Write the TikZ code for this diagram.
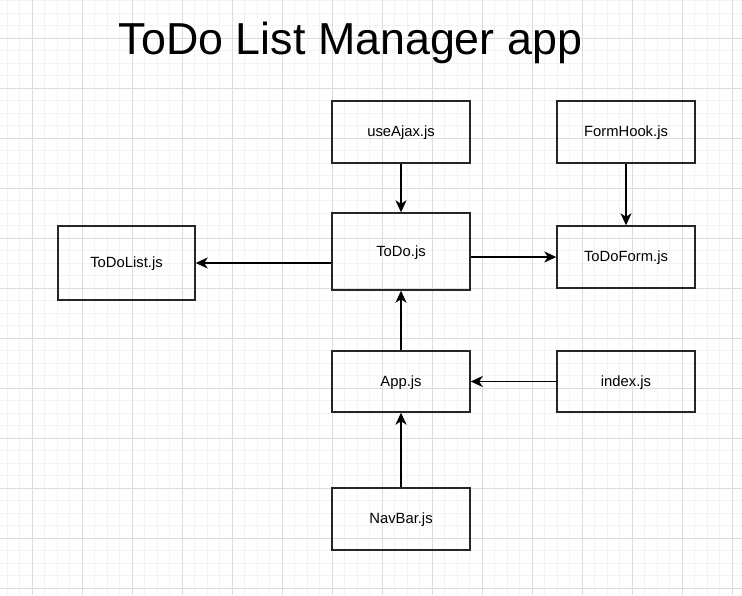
\documentclass[tikz,border=0pt]{standalone}
\usepackage{fontspec}
\setmainfont{Liberation Sans}
\usetikzlibrary{arrows.meta}
\definecolor{gmaj}{HTML}{DCDCDC}
\definecolor{gmin}{HTML}{F3F3F3}
\tikzset{
  box/.style={draw=black!85, line width=1.4pt, minimum width=138pt, font=\fontsize{14.8pt}{17pt}\selectfont, inner sep=0pt, text depth=0pt, text height=9pt},
  conn/.style={draw=black, line width=1.4pt, -{Stealth[length=12pt,width=11pt,inset=3.5pt]}}
}
\begin{document}
\begin{tikzpicture}[x=1pt,y=-1pt]
\useasboundingbox (0,0) rectangle (742,595);
\fill[white] (0,0) rectangle (742,595);
% minor grid
\foreach \i in {0,...,60} {
  \pgfmathsetmacro\xx{32+12.5*(\i-3)}
  \draw[gmin, line width=0.8pt] (\xx,0) -- (\xx,595);
}
\foreach \i in {0,...,50} {
  \pgfmathsetmacro\yy{38+12.5*(\i-4)}
  \draw[gmin, line width=0.8pt] (0,\yy) -- (742,\yy);
}
% major grid
\foreach \xx in {32,82,...,732} { \draw[gmaj, line width=0.9pt] (\xx,0) -- (\xx,595); }
\foreach \yy in {38,88,...,588} { \draw[gmaj, line width=0.9pt] (0,\yy) -- (742,\yy); }

\node (title) at (350.5,43) {\fontsize{44.8pt}{50pt}\selectfont ToDo List Manager app};

\node[box, minimum height=62pt] (ajax) at (401,132) {useAjax.js};
\node[box, minimum height=62pt] (hook) at (626,132) {FormHook.js};
\node[box, minimum height=77pt] (todo) at (401,251.5) {ToDo.js};
\node[box, minimum height=62pt] (form) at (626,257) {ToDoForm.js};
\node[box, minimum width=137pt, minimum height=74pt] (list) at (126.5,263) {ToDoList.js};
\node[box, minimum height=61pt] (app) at (401,381.5) {App.js};
\node[box, minimum height=61pt] (index) at (626,381.5) {index.js};
\node[box, minimum height=62pt] (nav) at (401,519) {NavBar.js};

\draw[conn] (ajax) -- (todo);
\draw[conn] (hook) -- (form);
\draw[conn] (todo.west |- list) -- (list.east);
\draw[conn] (todo.east |- form) -- (form.west);
\draw[conn] (app) -- (todo);
\draw[conn] (index) -- (app);
\draw[conn] (nav) -- (app);
\end{tikzpicture}
\end{document}
